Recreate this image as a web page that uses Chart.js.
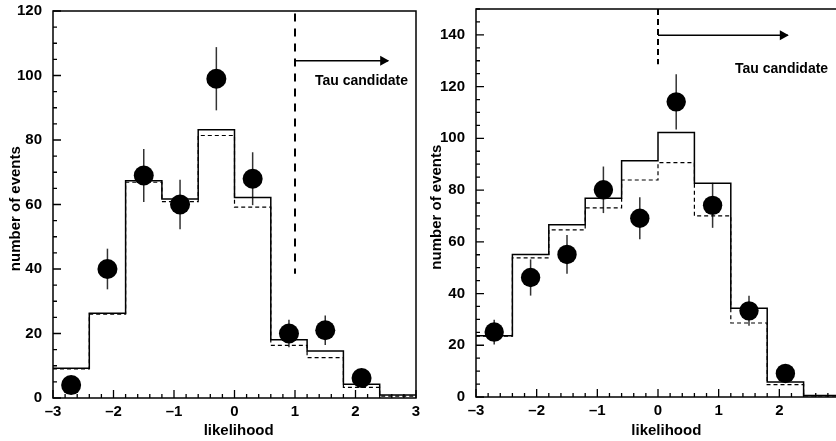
<!DOCTYPE html>
<html>
<head>
<meta charset="utf-8">
<script src="https://cdn.jsdelivr.net/npm/chart.js@4.4.0/dist/chart.umd.min.js"></script>
<style>
  html, body { margin: 0; padding: 0; background: #fff; overflow: hidden; width: 836px; height: 441px; }
  #left { position: absolute; left: 0; top: 0; }
  #right { position: absolute; left: 420px; top: 0; }
</style>
</head>
<body>
<canvas id="left" width="420" height="441"></canvas>
<canvas id="right" width="425" height="441"></canvas>
<script>
// bins of the likelihood histograms
const binEdges = [-3, -2.4, -1.8, -1.2, -0.6, 0, 0.6, 1.2, 1.8, 2.4, 3]
const binCenters = [-2.7, -2.1, -1.5, -0.9, -0.3, 0.3, 0.9, 1.5, 2.1]

// left panel
const leftSolid = [9.2, 26.3, 67.4, 61.7, 83.2, 62.2, 18.1, 14.6, 4.3, 0.9]
const leftDashed = [9.0, 26.0, 66.9, 60.9, 81.4, 59.2, 16.3, 12.5, 3.3, 0.6]
const leftData = [4, 40, 69, 60, 99, 68, 20, 21, 6.2]
const leftErr = [2, 6.3, 8.2, 7.7, 9.8, 8.2, 4.3, 4.6, 2.5]
const leftTicksY = [0, 20, 40, 60, 80, 100, 120]

// right panel
const rightSolid = [23.7, 55.1, 66.6, 76.8, 91.3, 102.3, 82.6, 34.3, 5.8, 0.6]
const rightDashed = [23.5, 53.8, 64.6, 73.1, 83.9, 90.6, 70.0, 28.6, 4.8, 0.4]
const rightData = [25.1, 46.2, 55.1, 80.1, 69.1, 114.1, 74.1, 33.3, 9.1]
const rightErr = [4.8, 7, 7.5, 9, 8.1, 10.7, 8.7, 5.8, 3]
const rightTicksY = [0, 20, 40, 60, 80, 100, 120, 140]

const ticksX = [-3, -2, -1, 0, 1, 2, 3]

// cut line + arrow ("Tau candidate")
const leftCut = { x: 1, yTop: 119.2, yBottom: 38.5, arrowY: 104.6, arrowEnd: 2.54, textX: 1.33, textY: 98.4 }
const rightCut = { x: 0, yTop: 150, yBottom: 128.6, arrowY: 139.9, arrowEnd: 2.14, textX: 1.27, textY: 126.8 }

const FONT = "'Liberation Sans', Arial, Helvetica, sans-serif"
const NB = '\u00a0'
Chart.defaults.font.family = FONT
Chart.defaults.font.weight = 'bold'
Chart.defaults.font.size = 15
Chart.defaults.color = '#000'

function histPoints(vals) {
    var pts = vals.map((v, i) => ({ x: binEdges[i], y: v }))
    pts.push({ x: binEdges[binEdges.length - 1], y: vals[vals.length - 1] })
    return pts
}

function minus(v) {
    return String(v).replace('-', '\u2013')
}

const rootStyle = {
    id: 'rootStyle',
    beforeDatasetsDraw(chart, args, opts) {
        const ctx = chart.ctx
        const xs = chart.scales.x, ys = chart.scales.y
        ctx.save()
        ctx.strokeStyle = '#333'
        ctx.lineWidth = 1.5
        opts.values.forEach((v, i) => {
            const px = xs.getPixelForValue(binCenters[i])
            ctx.beginPath()
            ctx.moveTo(px, ys.getPixelForValue(v - opts.errors[i]))
            ctx.lineTo(px, ys.getPixelForValue(v + opts.errors[i]))
            ctx.stroke()
        })
        ctx.restore()
    },
    afterDatasetsDraw(chart, args, opts) {
        const ctx = chart.ctx
        const xs = chart.scales.x, ys = chart.scales.y
        const a = chart.chartArea
        ctx.save()
        ctx.strokeStyle = '#000'
        ctx.lineWidth = 1.5
        ctx.strokeRect(a.left, a.top, a.right - a.left, a.bottom - a.top)

        // inward ticks
        ctx.lineWidth = 1.3
        ctx.beginPath()
        for (let k = 0; k <= 30; k++) {
            const v = xs.min + k * 0.2
            const px = xs.getPixelForValue(v)
            const len = k % 5 === 0 ? 8 : 4
            ctx.moveTo(px, a.bottom)
            ctx.lineTo(px, a.bottom - len)
        }
        for (let v = ys.min; v <= ys.max + 1e-6; v += 5) {
            const py = ys.getPixelForValue(v)
            const len = v % 20 === 0 ? 8 : 4
            ctx.moveTo(a.left, py)
            ctx.lineTo(a.left + len, py)
        }
        ctx.stroke()

        // arrow head + label
        const cut = opts.cut
        const tipX = xs.getPixelForValue(cut.arrowEnd)
        const tipY = ys.getPixelForValue(cut.arrowY)
        ctx.fillStyle = '#000'
        ctx.beginPath()
        ctx.moveTo(tipX + 1, tipY)
        ctx.lineTo(tipX - 8, tipY - 5)
        ctx.lineTo(tipX - 8, tipY + 5)
        ctx.closePath()
        ctx.fill()

        ctx.font = 'bold 14px ' + FONT
        ctx.textAlign = 'left'
        ctx.textBaseline = 'middle'
        ctx.fillText('Tau candidate', xs.getPixelForValue(cut.textX), ys.getPixelForValue(cut.textY))
        ctx.restore()
    }
}

function makeChart(id, p) {
    new Chart(document.getElementById(id), {
        type: 'line',
        data: {
            datasets: [
                {
                    data: histPoints(p.dashed),
                    stepped: 'before',
                    borderColor: '#000',
                    borderWidth: 1.2,
                    borderDash: [4, 3],
                    pointRadius: 0,
                    fill: false
                },
                {
                    data: histPoints(p.solid),
                    stepped: 'before',
                    borderColor: '#000',
                    borderWidth: 1.5,
                    pointRadius: 0,
                    fill: false
                },
                {
                    data: [{ x: p.cut.x, y: p.cut.yTop }, { x: p.cut.x, y: p.cut.yBottom }],
                    borderColor: '#000',
                    borderWidth: 2,
                    borderDash: p.cutDash,
                    pointRadius: 0,
                    fill: false
                },
                {
                    data: [{ x: p.cut.x, y: p.cut.arrowY }, { x: p.cut.arrowEnd, y: p.cut.arrowY }],
                    borderColor: '#000',
                    borderWidth: 1.5,
                    pointRadius: 0,
                    fill: false
                },
                {
                    type: 'scatter',
                    data: binCenters.map((c, i) => ({ x: c, y: p.values[i] })),
                    pointRadius: p.radius,
                    pointBackgroundColor: '#000',
                    pointBorderWidth: 0,
                    showLine: false
                }
            ]
        },
        options: {
            responsive: false,
            animation: false,
            events: [],
            layout: { autoPadding: false, padding: p.padding },
            plugins: {
                legend: { display: false },
                tooltip: { enabled: false },
                rootStyle: { values: p.values, errors: p.errors, cut: p.cut }
            },
            scales: {
                x: {
                    type: 'linear',
                    min: -3,
                    max: 3,
                    afterBuildTicks: s => { s.ticks = ticksX.map(v => ({ value: v })) },
                    afterFit: s => {
                        s.height = p.xHeight
                        s.paddingLeft = 0
                        s.paddingRight = 0
                    },
                    grid: { display: false, drawTicks: false },
                    border: { display: false },
                    ticks: { callback: v => minus(v), padding: 5, maxRotation: 0, autoSkip: false },
                    title: { display: true, text: NB.repeat(p.xShift) + 'likelihood', padding: { top: 0, bottom: 1 } }
                },
                y: {
                    type: 'linear',
                    min: 0,
                    max: p.yMax,
                    afterBuildTicks: s => { s.ticks = p.yTicks.map(v => ({ value: v })) },
                    afterFit: s => {
                        s.width = p.yWidth
                        s.paddingTop = 0
                        s.paddingBottom = 0
                    },
                    grid: { display: false, drawTicks: false },
                    border: { display: false },
                    ticks: { padding: p.yPad, autoSkip: false },
                    title: { display: true, text: 'number of events' + NB.repeat(2), padding: { top: p.titlePad, bottom: 0 } }
                }
            }
        },
        plugins: [rootStyle]
    })
}

makeChart('left', {
    solid: leftSolid, dashed: leftDashed, values: leftData, errors: leftErr,
    cut: leftCut, cutDash: [8, 7], radius: 10,
    yMax: 120, yTicks: leftTicksY,
    padding: { left: 0, right: 4, top: 11, bottom: 0 },
    xHeight: 43, yWidth: 53, yPad: 11, titlePad: 7, xShift: 2
})

makeChart('right', {
    solid: rightSolid, dashed: rightDashed, values: rightData, errors: rightErr,
    cut: rightCut, cutDash: [6, 4], radius: 9.7,
    yMax: 150, yTicks: rightTicksY,
    padding: { left: 0, right: 5, top: 9, bottom: 0 },
    xHeight: 44, yWidth: 56, yPad: 11, titlePad: 8, xShift: 4
})
</script>
</body>
</html>
